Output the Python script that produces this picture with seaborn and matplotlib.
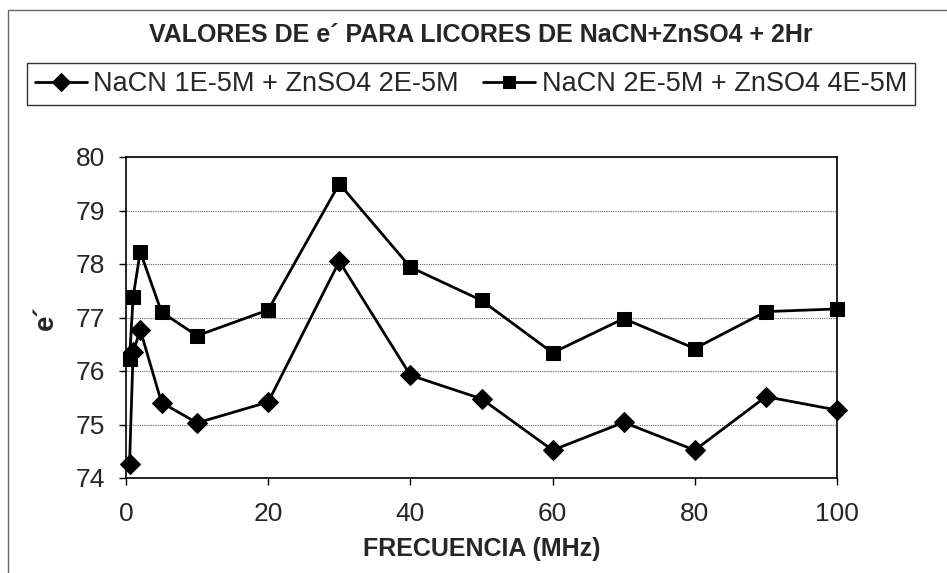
import matplotlib
matplotlib.use("Agg")
import matplotlib.pyplot as plt
import numpy as np
import pandas as pd
import seaborn as sns
from matplotlib.patches import Rectangle

# Frequencies (MHz) and permittivity values for each liquor
freq = [0.5, 1, 2, 5, 10, 20, 30, 40, 50, 60, 70, 80, 90, 100]
serie_1 = [74.27, 76.35, 76.77, 75.41, 75.03, 75.42, 78.05, 75.92, 75.48,
           74.52, 75.04, 74.52, 75.52, 75.27]
serie_2 = [76.23, 77.38, 78.23, 77.10, 76.66, 77.14, 79.50, 77.94, 77.32,
           76.34, 76.98, 76.42, 77.11, 77.16]
labels = ["NaCN 1E-5M + ZnSO4 2E-5M", "NaCN 2E-5M + ZnSO4 4E-5M"]
x_ticks = [0, 20, 40, 60, 80, 100]
y_ticks = [74, 75, 76, 77, 78, 79, 80]
title = "VALORES DE e´ PARA LICORES DE NaCN+ZnSO4 + 2Hr"
x_label = "FRECUENCIA (MHz)"
y_label = "e´"

df = pd.DataFrame({
    "freq": freq * 2,
    "valor": serie_1 + serie_2,
    "serie": [labels[0]] * len(freq) + [labels[1]] * len(freq),
})

sns.set_theme(style="white")
plt.rcParams["font.family"] = ["Liberation Sans", "DejaVu Sans"]

fig = plt.figure(figsize=(9.47, 5.73), dpi=100)
W, H = 947, 573
ax = fig.add_axes([126 / W, 1 - 478 / H, (837 - 126) / W, (478 - 157) / H])

sns.lineplot(
    data=df, x="freq", y="valor", hue="serie", style="serie",
    palette=["black", "black"], markers={labels[0]: "D", labels[1]: "s"},
    dashes=False, linewidth=2.0, markersize=10, markeredgecolor="black",
    sort=False, ax=ax, legend=True,
)
for ln in ax.lines:
    ln.set_clip_on(False)

ax.set_xlim(0, 100)
ax.set_ylim(74, 80)
ax.set_xticks(x_ticks)
ax.set_yticks(y_ticks)
ax.tick_params(axis="both", labelsize=19, direction="out", length=5,
               width=1, color="black", left=True, bottom=True)
ax.tick_params(axis="x", pad=12)
ax.tick_params(axis="y", pad=10)
for s in ax.spines.values():
    s.set_color("black")
    s.set_linewidth(1.2)
ax.yaxis.grid(True, linestyle=(0, (1, 1)), color="#666666", linewidth=0.8)
ax.xaxis.grid(False)

ax.set_xlabel(x_label, fontsize=18, fontweight="bold", labelpad=8)
ax.set_ylabel(y_label, fontsize=20, fontweight="bold", labelpad=12)

handles, lbls = ax.get_legend_handles_labels()
ax.get_legend().remove()
leg = fig.legend(
    handles, lbls, loc="center", bbox_to_anchor=(471 / W, 1 - 84 / H),
    ncol=2, frameon=True, fancybox=False, edgecolor="black",
    fontsize=19.5, handlelength=1.9, handletextpad=0.25, columnspacing=0.9,
    borderpad=0.3, markerscale=0.9,
)
leg.get_frame().set_linewidth(1.0)

fig.text(481 / W, 1 - 35 / H, title, ha="center", va="center",
         fontsize=18, fontweight="bold")

# outer chart border
fig.patches.append(Rectangle((8 / W, -0.1), 1.2, (1 - 10 / H) + 0.1,
                             transform=fig.transFigure, fill=False,
                             edgecolor="#666666", linewidth=1.0))

fig.savefig("out.png", dpi=100)
